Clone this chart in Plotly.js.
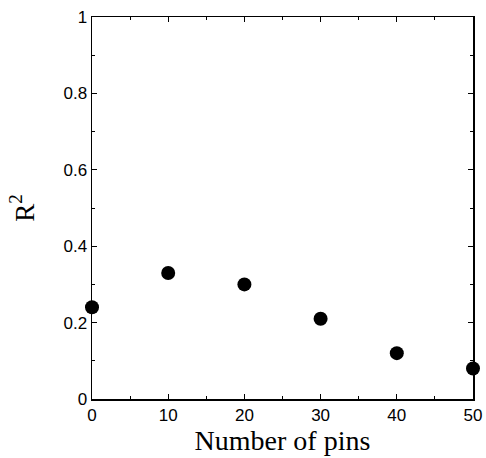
<!DOCTYPE html>
<html><head><meta charset="utf-8">
<script src="https://cdn.plot.ly/plotly-3.0.1.min.js"></script>
<style>html,body{margin:0;padding:0;background:#fff;}</style>
</head><body>
<div id="chart" style="width:486px;height:458px;"></div>
<script>
const pins = [0, 10, 20, 30, 40, 50];
const r2 = [0.24, 0.33, 0.30, 0.21, 0.12, 0.08];

const axisCommon = {
  showline: true, linecolor: '#000', linewidth: 1.5, mirror: 'ticks',
  ticks: 'inside', ticklen: 5, tickwidth: 1, tickcolor: '#000',
  showgrid: false, zeroline: false,
  tickfont: {family: 'Liberation Sans, Arial, sans-serif', size: 17, color: '#000'}
};

Plotly.newPlot('chart', [{
  x: pins, y: r2, type: 'scatter', mode: 'markers',
  marker: {color: '#000', size: 14},
  cliponaxis: false
}], {
  width: 486, height: 458,
  margin: {l: 92, r: 13, t: 17, b: 59},
  paper_bgcolor: '#fff', plot_bgcolor: '#fff',
  showlegend: false,
  xaxis: Object.assign({}, axisCommon, {
    range: [0, 50], dtick: 10, tick0: 0,
    minor: {dtick: 5, ticks: 'inside', ticklen: 3, tickcolor: '#000'},
    title: {text: 'Number of pins', font: {family: 'Liberation Serif, Times New Roman, serif', size: 28, color: '#000'}, standoff: 4}
  }),
  yaxis: Object.assign({}, axisCommon, {
    range: [0, 1], dtick: 0.2, tick0: 0,
    minor: {dtick: 0.1, ticks: 'inside', ticklen: 3, tickcolor: '#000'},
    title: {text: 'R<sup>2</sup>', font: {family: 'Liberation Serif, Times New Roman, serif', size: 27, color: '#000'}, standoff: 21}
  })
}, {displayModeBar: false, staticPlot: true});
</script>
</body></html>
